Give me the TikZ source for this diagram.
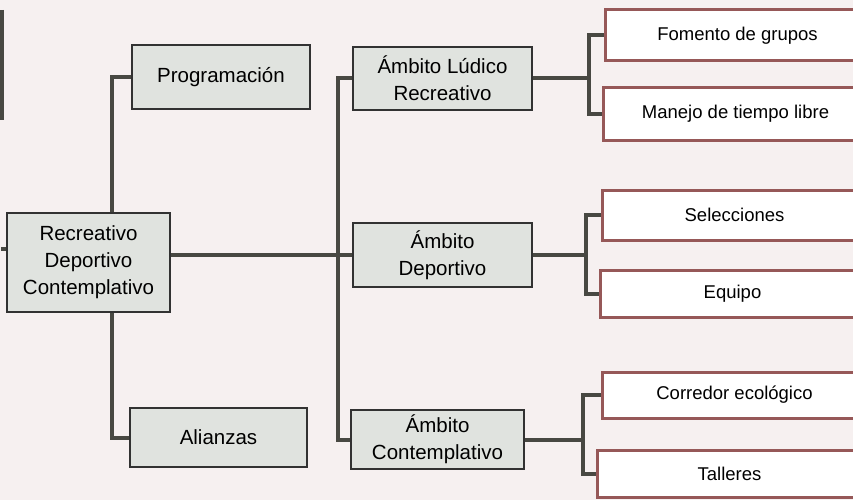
\documentclass[tikz,border=0pt]{standalone}
\usepackage{fontspec}
\setmainfont{Liberation Sans}
\usetikzlibrary{calc}

\definecolor{paper}{RGB}{246,240,240}
\definecolor{boxfill}{RGB}{224,227,223}
\definecolor{boxline}{RGB}{50,50,50}
\definecolor{redline}{RGB}{150,88,88}
\definecolor{linkcol}{RGB}{72,72,66}

\tikzset{
  gbox/.style={draw=boxline, line width=2.2pt, fill=boxfill, align=center,
    inner sep=0pt, font=\fontsize{20.5}{27}\selectfont},
  wbox/.style={draw=redline, line width=3pt, fill=white, align=center,
    inner sep=0pt, minimum width=265pt, font=\fontsize{18.5}{24}\selectfont},
  link/.style={draw=linkcol, line width=4pt},
}

\begin{document}
\begin{tikzpicture}[x=1pt, y=-1pt]
        \useasboundingbox (0,0) rectangle (853,500);
        \clip (0,0) rectangle (853,500);
        \fill[paper] (0,0) rectangle (853,500);

        \node[gbox, minimum width=163pt, minimum height=99pt] (root) at (88.5, 262.5) {Recreativo\\Deportivo\\Contemplativo};

        \node[gbox, minimum width=178pt, minimum height=64pt] (prog) at (221, 77) {Programación};
        \node[gbox, minimum width=177pt, minimum height=59pt] (alia) at (218.5, 437.5) {Alianzas};

        \node[gbox, minimum width=179pt, minimum height=63pt] (ludico) at (442.5, 78.5) {Ámbito Lúdico\\Recreativo};
        \node[gbox, minimum width=179pt, minimum height=64pt] (deport) at (442.5, 255) {Ámbito\\Deportivo};
        \node[gbox, minimum width=173pt, minimum height=59pt] (contem) at (437.5, 439.5) {Ámbito\\Contemplativo};

        \node[wbox, minimum height=51pt] (fomento) at (737.5, 35.5) {Fomento de grupos};
        \node[wbox, minimum height=52pt] (manejo) at (735.5, 114) {Manejo de tiempo libre};
        \node[wbox, minimum height=50pt] (selec) at (734.5, 215) {Selecciones};
        \node[wbox, minimum height=47pt] (equipo) at (732.5, 293.5) {Equipo};
        \node[wbox, minimum height=46pt] (corredor) at (734.5, 395) {Corredor ecológico};
        \node[wbox, minimum height=47pt] (talleres) at (729.5, 473.5) {Talleres};

        \coordinate (lt) at (112, 0);
        \coordinate (mt) at (338, 0);

        % cut-off lines at the left edge
        \draw[link] (root.west |- root.north) ++(-5,37) coordinate (cut) -- (root.west |- cut);
        \draw[link] (1.5, 10) -- (1.5, 120);

        \draw[link] (root.north -| lt) |- (prog.west);
        \draw[link] (root.south -| lt) |- (alia.west);

        \draw[link] (root.east |- deport.west) -- (deport.west);
        \draw[link] (ludico.west) -| (mt |- contem.west) -- (contem.west);

        \draw[link] (ludico.east) -- ++(56, 0) coordinate (f1);
        \draw[link] (fomento.west) -| (f1) |- (manejo.west);

        \draw[link] (deport.east) -- ++(53, 0) coordinate (f2);
        \draw[link] (selec.west) -| (f2) |- (equipo.west);

        \draw[link] (contem.east) -- ++(58, 0) coordinate (f3);
        \draw[link] (corredor.west) -| (f3) |- (talleres.west);
    \end{tikzpicture}
\end{document}
